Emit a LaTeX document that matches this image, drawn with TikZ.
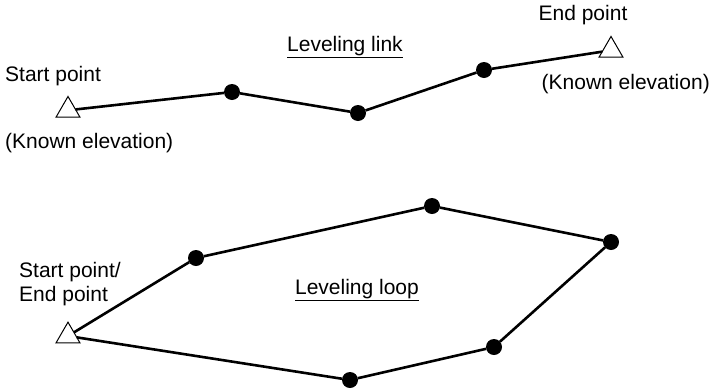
\documentclass[tikz,border=0pt]{standalone}
\usepackage{fontspec}
\setmainfont{Liberation Sans}
\usetikzlibrary{shapes.geometric}
\begin{document}
\begin{tikzpicture}[x=1pt,y=-1pt,
  lbl/.style={font=\fontsize{21}{24}\selectfont, inner sep=0pt},
  known/.style={regular polygon, regular polygon sides=3, draw, fill=white, line width=1pt, minimum size=27.7pt, inner sep=0pt, outer sep=0pt},
  pt/.style={circle, fill=black, minimum size=16pt, inner sep=0pt, outer sep=0pt},
  leg/.style={line width=2.6pt}]
\useasboundingbox (0,0) rectangle (713,389);
% Leveling link
\node[known] (s1) at (68,110.3) {};
\node[pt] (a1) at (232,92) {};
\node[pt] (a2) at (358,113) {};
\node[pt] (a3) at (484,70) {};
\node[known] (e1) at (611,50.3) {};
\draw[leg] (s1) -- (a1) -- (a2) -- (a3) -- (e1);
\node[lbl, anchor=west] (t1) at (5,76) {Start point};
\node[lbl, anchor=west] (t2) at (5,143) {(Known elevation)};
\node[lbl] (t3) at (345,47) {\underline{Leveling link}};
\node[lbl] (t4) at (583,15) {End point};
\node[lbl, anchor=east] (t5) at (710,84) {(Known elevation)};
% Leveling loop
\node[known] (s2) at (68,336) {};
\node[pt] (b1) at (196,258) {};
\node[pt] (b2) at (432,206) {};
\node[pt] (b3) at (611,242) {};
\node[pt] (b4) at (494,347) {};
\node[pt] (b5) at (350,380) {};
\draw[leg] (s2) -- (b1) -- (b2) -- (b3) -- (b4) -- (b5) -- (s2);
\node[lbl, anchor=west, align=left] (t6) at (19,284) {Start point/\\End point};
\node[lbl] (t7) at (357,290) {\underline{Leveling loop}};
\end{tikzpicture}
\end{document}
